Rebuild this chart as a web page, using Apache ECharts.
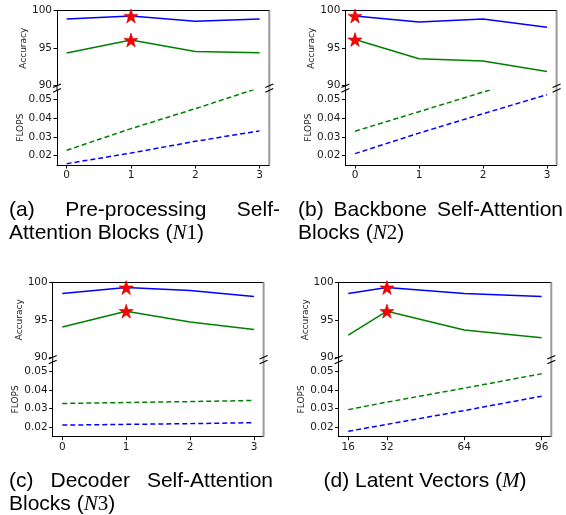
<!DOCTYPE html>
<html><head><meta charset="utf-8">
<script src="https://cdn.jsdelivr.net/npm/echarts@6/dist/echarts.min.js"></script>
<style>html,body{margin:0;padding:0;background:#fff}#c{width:566px;height:515px}</style>
</head><body><div id="c"></div>
<script>
// ---- tick labels ----
const xTicksN = [0, 1, 2, 3];
const xTicksM = [16, 32, 64, 96];
const accTicks = [90, 95, 100];
const flopsTicks = [0.02, 0.03, 0.04, 0.05];

// ---- (a) Pre-processing Self-Attention Blocks (N1) ----
const xA = [0, 1, 2, 3];
const accBlueA = [98.9, 99.3, 98.6, 98.9];
const accGreenA = [94.35, 96.1, 94.55, 94.4];
const flopsBlueA = [0.0157, 0.0214, 0.0277, 0.0333];
const flopsGreenA = [0.0229, 0.0345, 0.0452, 0.0565];

// ---- (b) Backbone Self-Attention Blocks (N2) ----
const xB = [0, 1, 2, 3];
const accBlueB = [99.3, 98.5, 98.9, 97.8];
const accGreenB = [96.15, 93.6, 93.3, 91.9];
const flopsBlueB = [0.0211, 0.0321, 0.0425, 0.0527];
const flopsGreenB = [0.0331, 0.0436, 0.0541, 0.0646];

// ---- (c) Decoder Self-Attention Blocks (N3) ----
const xC = [0, 1, 2, 3];
const accBlueC = [98.5, 99.3, 98.9, 98.1];
const accGreenC = [94.05, 96.15, 94.7, 93.7];
const flopsBlueC = [0.0212, 0.0216, 0.022, 0.0225];
const flopsGreenC = [0.0328, 0.0333, 0.0338, 0.0344];

// ---- (d) Latent Vectors (M) ----
const xD = [16, 32, 64, 96];
const accBlueD = [98.5, 99.3, 98.5, 98.1];
const accGreenD = [92.95, 96.15, 93.65, 92.6];
const flopsBlueD = [0.0179, 0.0216, 0.029, 0.0367];
const flopsGreenD = [0.0295, 0.0335, 0.041, 0.0487];

const panels = [
  {x: xA, ab: accBlueA, ag: accGreenA, fb: flopsBlueA, fg: flopsGreenA, ticks: xTicksN,
   left: 57, width: 212.3, top: 10.7, accH: 75, fTop: 90.4, fH: 74.6, xmin: -0.15, xmax: 3.15},
  {x: xB, ab: accBlueB, ag: accGreenB, fb: flopsBlueB, fg: flopsGreenB, ticks: xTicksN,
   left: 345.4, width: 211.2, top: 10.7, accH: 75, fTop: 90.4, fH: 74.6, xmin: -0.15, xmax: 3.15},
  {x: xC, ab: accBlueC, ag: accGreenC, fb: flopsBlueC, fg: flopsGreenC, ticks: xTicksN,
   left: 52.7, width: 210.9, top: 282.3, accH: 75, fTop: 362, fH: 74.7, xmin: -0.15, xmax: 3.15},
  {x: xD, ab: accBlueD, ag: accGreenD, fb: flopsBlueD, fg: flopsGreenD, ticks: xTicksM,
   left: 338.6, width: 212.7, top: 282.3, accH: 75, fTop: 362, fH: 74.7, xmin: 12, xmax: 100}
];

const BLUE = '#0000ff', GREEN = '#008000';
const STAR = 'path://M50,0 L61.8,35.1 L98.1,35.1 L68.8,56.7 L79.4,90.5 L50,69.1 L20.6,90.5 L31.2,56.7 L1.9,35.1 L38.2,35.1 Z';
const tickFont = {fontFamily: 'DejaVu Sans', fontSize: 10.5, color: '#1a1a1a'};
const nameFont = {fontFamily: 'DejaVu Sans', fontSize: 9, color: '#1a1a1a'};

const grid = [], xAxis = [], yAxis = [], series = [], graphic = [];
function argmax(a) { let m = 0; a.forEach((v, i) => { if (v > a[m]) m = i; }); return m; }

panels.forEach((p, k) => {
  const gi = grid.length;
  grid.push({left: p.left, top: p.top, width: p.width, height: p.accH});
  grid.push({left: p.left, top: p.fTop, width: p.width, height: p.fH});
  xAxis.push({type: 'value', gridIndex: gi, position: 'top', min: p.xmin, max: p.xmax,
    axisLine: {show: true, onZero: false, lineStyle: {color: '#000', width: 1}},
    axisTick: {show: false}, axisLabel: {show: false}, splitLine: {show: false}});
  xAxis.push({type: 'value', gridIndex: gi + 1, position: 'bottom', min: p.xmin, max: p.xmax,
    axisLine: {show: true, onZero: false, lineStyle: {color: '#000', width: 1}},
    axisTick: {show: true, length: 3.5, customValues: p.ticks, lineStyle: {color: '#000'}},
    axisLabel: {show: true, margin: 5, customValues: p.ticks, ...tickFont},
    splitLine: {show: false}});
  yAxis.push({type: 'value', gridIndex: gi, min: 90, max: 100,
    axisLine: {show: true, onZero: false, lineStyle: {color: '#000', width: 1}},
    axisTick: {show: true, length: 3.5, customValues: accTicks, lineStyle: {color: '#000'}},
    axisLabel: {show: true, margin: 5, customValues: accTicks, ...tickFont},
    splitLine: {show: false},
    name: 'Accuracy', nameLocation: 'middle', nameGap: 28, nameRotate: 90, nameTextStyle: nameFont});
  yAxis.push({type: 'value', gridIndex: gi + 1, min: 0.015, max: 0.055,
    axisLine: {show: true, onZero: false, lineStyle: {color: '#000', width: 1}},
    axisTick: {show: true, length: 3.5, customValues: flopsTicks, lineStyle: {color: '#000'}},
    axisLabel: {show: true, margin: 5, customValues: flopsTicks, formatter: v => v.toFixed(2), ...tickFont},
    splitLine: {show: false},
    name: 'FLOPS', nameLocation: 'middle', nameGap: 31.5, nameRotate: 90, nameTextStyle: nameFont});

  const mk = (arr) => p.x.map((xv, i) => [xv, arr[i]]);
  series.push({type: 'line', xAxisIndex: gi, yAxisIndex: gi, data: mk(p.ab), symbol: 'none',
    lineStyle: {color: BLUE, width: 1.5}, silent: true, z: 2});
  series.push({type: 'line', xAxisIndex: gi, yAxisIndex: gi, data: mk(p.ag), symbol: 'none',
    lineStyle: {color: GREEN, width: 1.5}, silent: true, z: 2});
  series.push({type: 'line', xAxisIndex: gi + 1, yAxisIndex: gi + 1, data: mk(p.fg), symbol: 'none', clip: true,
    lineStyle: {color: GREEN, width: 1.5, type: [5, 3]}, silent: true, z: 2});
  series.push({type: 'line', xAxisIndex: gi + 1, yAxisIndex: gi + 1, data: mk(p.fb), symbol: 'none', clip: true,
    lineStyle: {color: BLUE, width: 1.5, type: [5, 3]}, silent: true, z: 2});
  const ib = argmax(p.ab), ig = argmax(p.ag);
  series.push({type: 'scatter', xAxisIndex: gi, yAxisIndex: gi, symbol: STAR, symbolSize: 14,
    data: [[p.x[ib], p.ab[ib]], [p.x[ig], p.ag[ig]]],
    itemStyle: {color: '#ff0000', borderColor: '#c00000', borderWidth: 0.6, opacity: 1}, silent: true, z: 5});

  const L = p.left, R = p.left + p.width, yb = p.top + p.accH, yt = p.fTop;
  graphic.push({type: 'line', shape: {x1: R, y1: p.top, x2: R, y2: p.fTop + p.fH}, style: {stroke: '#9a9a9a', lineWidth: 2}, z: 10});
  graphic.push({type: 'line', shape: {x1: L, y1: yb, x2: L, y2: yt}, style: {stroke: '#000', lineWidth: 1}, z: 10});
  [L, R].forEach(xx => {
    [yb, yt].forEach(yy => {
      graphic.push({type: 'line', shape: {x1: xx - 4, y1: yy + 1.8, x2: xx + 4, y2: yy - 1.8},
        style: {stroke: '#000', lineWidth: 1.1}, z: 11});
    });
  });
});

// ---- captions ----
const CAP_FONT = '21px "Liberation Sans", Arial, sans-serif';
const meas = document.createElement('canvas').getContext('2d');
function tw(t) { meas.font = CAP_FONT; return meas.measureText(t).width; }
function justified(words, x0, x1, y) {
  const total = words.reduce((s, w) => s + tw(w), 0);
  const gap = (x1 - x0 - total) / (words.length - 1);
  let x = x0;
  words.forEach(w => {
    graphic.push({type: 'text', style: {x: x, y: y, text: w, font: CAP_FONT, fill: '#000', align: 'left', verticalAlign: 'middle'}});
    x += tw(w) + gap;
  });
}
const richMath = {
  mi: {fontFamily: 'Liberation Serif', fontStyle: 'italic', fontSize: 21, fill: '#000'},
  mr: {fontFamily: 'Liberation Serif', fontSize: 21, fill: '#000'}
};
function plain(text, x, y, align) {
  graphic.push({type: 'text', style: {x: x, y: y, text: text, font: CAP_FONT, fill: '#000', align: align || 'left', verticalAlign: 'middle', rich: richMath}});
}
justified(['(a)', 'Pre-processing', 'Self-'], 9, 280, 210);
plain('Attention Blocks ({mi|N}{mr|1})', 9, 233);
justified(['(b)', 'Backbone', 'Self-Attention'], 298, 563, 210);
plain('Blocks ({mi|N}{mr|2})', 298, 233);
justified(['(c)', 'Decoder', 'Self-Attention'], 9, 273, 481);
plain('Blocks ({mi|N}{mr|3})', 9, 504);
plain('(d) Latent Vectors ({mi|M})', 425, 481, 'center');

const chart = echarts.init(document.getElementById('c'), null, {renderer: 'canvas'});
chart.setOption({animation: false, backgroundColor: '#fff', grid, xAxis, yAxis, series, graphic});
</script></body></html>
